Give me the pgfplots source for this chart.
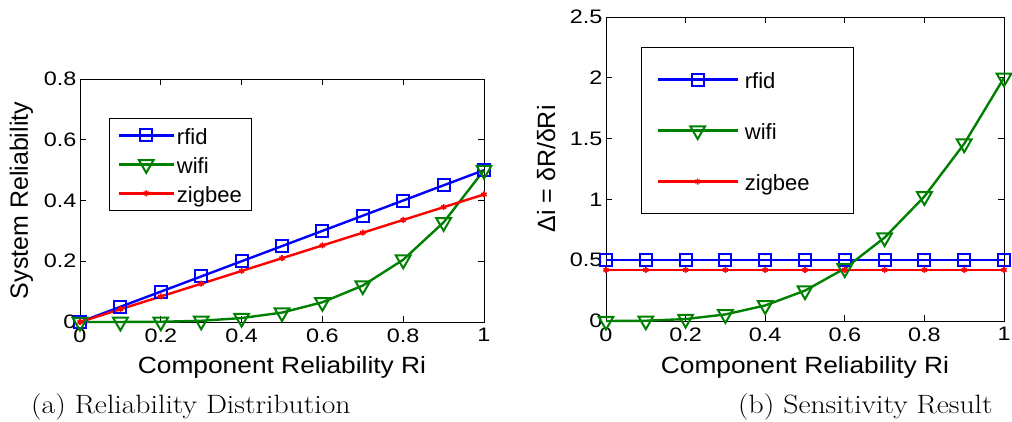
\documentclass[border=0pt]{standalone}
\usepackage{fontspec}
\setsansfont{Liberation Sans}
\newfontfamily\capfont{Latin Modern Roman}
\usepackage{graphicx}
\usepackage{pgfplots}
\pgfplotsset{compat=1.18}

\definecolor{mblue}{rgb}{0,0,1}
\definecolor{mgreen}{rgb}{0,0.5,0}
\definecolor{mred}{rgb}{1,0,0}

% the reference text is set a little wide
\newcommand{\hs}[1]{\scalebox{1.2}[1]{#1}}

\pgfplotsset{
  mat/.style={
    scale only axis,
    xmin=0, xmax=1,
    xtick={0,0.2,0.4,0.6,0.8,1},
    tick align=inside,
    major tick length=6pt,
    every tick/.style={black, line width=0.8pt},
    axis line style={line width=0.9pt},
    /pgf/number format/assume math mode=true,
    xticklabel={\hs{\pgfmathprintnumber{\tick}}},
    yticklabel={\hs{\pgfmathprintnumber{\tick}}},
    tick label style={font=\fontsize{19.5}{22}\selectfont\sffamily},
    x tick label style={yshift=-3pt},
    label style={font=\fontsize{23.5}{26}\selectfont\sffamily},
    y label style={font=\fontsize{25}{28}\selectfont\sffamily},
    legend style={font=\fontsize{22}{24}\selectfont\sffamily, draw=black,
      line width=0.9pt, cells={anchor=west},
      nodes={text height=20pt, text depth=2pt, inner sep=2pt}},
    clip=false,
  },
  rfid/.style={mblue, line width=2.4pt, mark=square, mark size=6pt,
    mark options={line width=2pt}},
  wifi/.style={mgreen, line width=2.4pt, mark=triangle, mark size=8.5pt,
    mark options={line width=2pt, rotate=180}},
  zigbee/.style={mred, line width=2.4pt, mark=asterisk, mark size=3pt,
    mark options={line width=1.6pt}},
}

\begin{document}
\begin{tikzpicture}
\path[use as bounding box] (0pt,0pt) rectangle (1012pt,421pt);

% (a) reliability distribution
\begin{axis}[mat,
  at={(80pt,99pt)}, width=404pt, height=243pt,
  ymin=0, ymax=0.8, ytick={0,0.2,0.4,0.6,0.8},
  xlabel={\scalebox{1.12}[1]{Component Reliability Ri}},
  ylabel={System Reliability},
  x label style={at={(axis description cs:0.5,-0.21)}, anchor=base},
  y label style={at={(axis description cs:-0.129,0.5)}, anchor=base},
  legend style={at={(axis description cs:0.072,0.84)}, anchor=north west,
    row sep=3pt, inner xsep=8pt, inner ysep=4pt},
  legend image code/.code={\draw[mark repeat=2,mark phase=2,#1]
    plot coordinates {(0pt,0pt) (27.5pt,0pt) (55pt,0pt)};},
]
\addplot[rfid] coordinates {(0,0) (0.1,0.05) (0.2,0.1) (0.3,0.15) (0.4,0.2)
  (0.5,0.25) (0.6,0.3) (0.7,0.35) (0.8,0.4) (0.9,0.45) (1,0.5)};
\addplot[wifi] coordinates {(0,0) (0.1,0.0001) (0.2,0.0008) (0.3,0.004)
  (0.4,0.013) (0.5,0.031) (0.6,0.065) (0.7,0.12) (0.8,0.205) (0.9,0.328) (1,0.5)};
\addplot[zigbee] coordinates {(0,0) (0.1,0.042) (0.2,0.084) (0.3,0.126)
  (0.4,0.168) (0.5,0.21) (0.6,0.252) (0.7,0.294) (0.8,0.336) (0.9,0.378) (1,0.42)};
\legend{rfid, wifi, zigbee}
\end{axis}

% (b) sensitivity result
\begin{axis}[mat,
  at={(606pt,100pt)}, width=398pt, height=304pt,
  ymin=0, ymax=2.5, ytick={0,0.5,1,1.5,2,2.5},
  xlabel={\scalebox{1.12}[1]{Component Reliability Ri}},
  ylabel={Δi = δR/δRi},
  x label style={at={(axis description cs:0.5,-0.174)}, anchor=base},
  y label style={at={(axis description cs:-0.128,0.5)}, anchor=base},
  legend style={at={(axis description cs:0.088,0.901)}, anchor=north west,
    row sep=25pt, inner xsep=15pt, inner ysep=19pt, column sep=4pt},
  legend image code/.code={\draw[mark repeat=2,mark phase=2,#1]
    plot coordinates {(0pt,0pt) (40pt,0pt) (80pt,0pt)};},
]
\addplot[rfid] coordinates {(0,0.5) (0.1,0.5) (0.2,0.5) (0.3,0.5) (0.4,0.5)
  (0.5,0.5) (0.6,0.5) (0.7,0.5) (0.8,0.5) (0.9,0.5) (1,0.5)};
\addplot[wifi] coordinates {(0,0) (0.1,0.002) (0.2,0.016) (0.3,0.054)
  (0.4,0.128) (0.5,0.25) (0.6,0.432) (0.7,0.686) (0.8,1.024) (0.9,1.458) (1,2)};
\addplot[zigbee] coordinates {(0,0.42) (0.1,0.42) (0.2,0.42) (0.3,0.42)
  (0.4,0.42) (0.5,0.42) (0.6,0.42) (0.7,0.42) (0.8,0.42) (0.9,0.42) (1,0.42)};
\addlegendentry{\makebox[92pt][l]{rfid}}
\addlegendentry{wifi}
\addlegendentry{zigbee}
\end{axis}

\node[anchor=base west, inner sep=0pt] at (31pt,8pt)
  {\capfont\fontsize{26.5}{30}\selectfont\scalebox{1.12}[1]{(a) Reliability Distribution}};
\node[anchor=base west, inner sep=0pt] at (738pt,8pt)
  {\capfont\fontsize{26.5}{30}\selectfont\scalebox{1.12}[1]{(b) Sensitivity Result}};
\end{tikzpicture}
\end{document}
